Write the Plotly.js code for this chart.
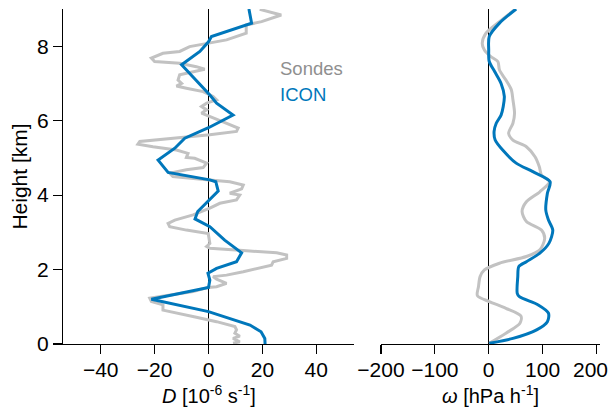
<!DOCTYPE html>
<html><head><meta charset="utf-8">
<script src="https://cdn.plot.ly/plotly-3.0.1.min.js"></script>
<style>html,body{margin:0;padding:0;background:#fff}#chart{width:609px;height:411px}</style>
</head><body><div id="chart"></div>
<script>
// ---- Divergence D [1e-6 s-1] ----
const sondeDHeight = [0.02,0.06,0.15,0.21,0.29,0.38,0.47,0.51,0.6,0.72,0.83,0.91,1.05,1.14,1.23,1.32,1.41,1.52,1.54,1.63,1.74,1.81,1.85,1.94,2.03,2.12,2.21,2.3,2.39,2.45,2.51,2.57,2.62,2.7,2.97,3.06,3.15,3.24,3.33,3.47,3.65,3.78,3.87,4.0,4.05,4.17,4.27,4.36,4.41,4.5,4.59,4.68,4.74,4.86,4.99,5.01,5.12,5.21,5.3,5.37,5.44,5.53,5.62,5.71,5.8,5.97,6.11,6.2,6.29,6.38,6.47,6.56,6.65,6.78,6.87,6.93,7.0,7.09,7.23,7.32,7.38,7.45,7.54,7.59,7.68,7.81,7.86,7.99,8.08,8.17,8.35,8.57,8.66,8.84,8.99];
const sondeD = [9.1,11.6,9.1,11.6,9.8,10.4,9.8,7.9,3,-4.5,-11.9,-16.9,-16.9,-21.2,-21.8,-14.4,-5.7,-0.1,3,6.7,3,1.7,6.7,12.9,17.8,23.4,24,29,29,25.3,12.9,0.5,-0.7,0.5,-0.1,-8.2,-14.4,-15,-12.5,-5.7,0.5,4.2,10.4,11.6,7.9,12.3,12.9,7.9,-0.7,-13.2,-14.4,-8.2,-2,-0.7,-5.1,-8.2,-7.6,-11.9,-20.6,-26.2,-25.5,-11.9,0.5,10.4,11,5.4,0.5,-2.6,-0.7,-2.6,-0.7,3,1.7,-2,-8.2,-11.9,-10,-11.3,-10.7,-4.5,-1.4,-4.5,-10.7,-20,-21.2,-16.9,-10.7,-7,-0.7,6.7,14,14,19.7,27,19];
const iconDHeight = [0.0,0.15,0.33,0.51,0.87,1.2,1.52,1.72,1.9,2.03,2.21,2.45,2.79,3.0,3.15,3.36,3.56,4.11,4.36,4.41,4.61,4.94,5.26,5.53,5.81,6.15,6.47,6.69,7.5,7.86,8.12,8.26,8.62,9.0];
const iconD = [21,20.9,19.5,15.4,0,-21.2,0,0.5,-0.2,3,10.4,12.3,6,3,0.5,-5,-4,3.6,2.7,0.5,-15,-18.7,-12.5,-8.8,0,9.1,3,0.5,-10,-3.2,0,1.1,16,15];

// ---- Vertical velocity omega [hPa h-1] ----
const sondeWHeight = [0.02,0.29,0.56,0.75,0.96,1.14,1.3,1.54,1.81,1.99,2.17,2.35,2.53,2.84,3.06,3.29,3.56,3.82,4.09,4.36,4.54,4.76,5.03,5.3,5.48,5.66,5.93,6.2,6.56,6.83,7.09,7.36,7.59,7.72,7.9,8.08,8.35,8.66,8.98];
const sondeW = [1,32,58,60,32,1,-21,-19,-16,-8,20,70,95,104,98,70,62,70,95,113,98,94,86,70,45,37,45,48,45,42,32,20,17,4,-8,-12,-5,20,48];
const iconWHeight = [0.02,0.15,0.38,0.6,0.83,1.05,1.27,1.36,1.81,2.08,2.21,2.44,2.71,3.06,3.33,3.6,4.05,4.36,4.63,4.86,5.21,5.48,5.71,5.93,6.15,6.38,6.65,7.0,7.32,7.59,7.9,8.26,8.62,9.0];
const iconW = [1,45,89,109,111,92,57,53,54,56,70,95,112,119,111,106,109,114,82,51,26,12,10,14,23,27,29,23,11,1,0,1,20,51];

// ---- ticks, labels ----
const yTickVals = [0,2,4,6,8];
const yTickText = ['0','2','4','6','8'];
const dTickVals = [-40,-20,0,20,40];
const dTickText = ['\u221240','\u221220','0','20','40'];
const wTickVals = [-200,-100,0,100,200];
const wTickText = ['\u2212200','\u2212100','0','100','200'];
const seriesNames = ['Sondes','ICON'];
const seriesColors = ['#c2c2c2','#0077bb'];
const xTitles = ['<i>D</i> [10<sup>-6</sup> s<sup>-1</sup>]', '<i>\u03c9</i> [hPa h<sup>-1</sup>]'];
const yTitle = 'Height [km]';

const FONT = 'Liberation Sans, Arial, Helvetica, sans-serif';

const traces = [
  {x: sondeD, y: sondeDHeight, xaxis:'x', yaxis:'y', mode:'lines', line:{color:seriesColors[0], width:3}, name:seriesNames[0]},
  {x: iconD, y: iconDHeight, xaxis:'x', yaxis:'y', mode:'lines', line:{color:seriesColors[1], width:3}, name:seriesNames[1]},
  {x: sondeW, y: sondeWHeight, xaxis:'x2', yaxis:'y2', mode:'lines', line:{color:seriesColors[0], width:3, shape:'spline', smoothing:0.8}, name:seriesNames[0]},
  {x: iconW, y: iconWHeight, xaxis:'x2', yaxis:'y2', mode:'lines', line:{color:seriesColors[1], width:3, shape:'spline', smoothing:0.8}, name:seriesNames[1]}
];

const axCommon = {showline:true, linecolor:'#000', linewidth:1.2, ticks:'outside', ticklen:9, tickwidth:1.2, tickcolor:'#000', showgrid:false, tickfont:{size:21, color:'#000'}};

const D1 = [0,0.5419], D2 = [0.5922,1];
// the last omega tick label sits a little left of its tick (kept inside the figure)
const wTickTextShown = wTickText.map((t,i) => i === wTickText.length-1 ? '' : t);

const layout = {
  width:609, height:411,
  margin:{l:63, r:9, t:9, b:67},
  paper_bgcolor:'#fff', plot_bgcolor:'rgba(0,0,0,0)',
  font:{family:FONT, color:'#000'},
  showlegend:false,
  xaxis: Object.assign({}, axCommon, {domain:D1, range:[-54,54], anchor:'y', tickvals:dTickVals, ticktext:dTickText,
    ticklabelstandoff:-2, zeroline:true, zerolinecolor:'#000', zerolinewidth:1.2}),
  yaxis: Object.assign({}, axCommon, {domain:[0,1], range:[0,9], anchor:'x', tickvals:yTickVals, ticktext:yTickText, zeroline:false,
    title:{text:yTitle, font:{size:21, color:'#000'}, standoff:3}}),
  yaxis3: {overlaying:'y', anchor:'x', side:'right', range:[0,9], showline:true, linecolor:'#000', linewidth:1.2,
    ticks:'inside', ticklen:9, tickwidth:1.2, tickcolor:'#000', tickvals:yTickVals, showticklabels:false, showgrid:false, zeroline:false},
  xaxis2: Object.assign({}, axCommon, {domain:D2, range:[-200,206.7], anchor:'y2', tickvals:wTickVals, ticktext:wTickTextShown,
    ticklabelstandoff:-2, zeroline:true, zerolinecolor:'#000', zerolinewidth:1.2}),
  yaxis2: {domain:[0,1], range:[0,9], anchor:'x2', visible:false, showgrid:false, zeroline:false},
  annotations: [
    {xref:'paper', yref:'paper', x:0.4004, y:0.8209, xanchor:'left', yanchor:'middle', text:seriesNames[0], showarrow:false, font:{size:18.5, color:'#8f8f8f'}},
    {xref:'paper', yref:'paper', x:0.4004, y:0.7433, xanchor:'left', yanchor:'middle', text:seriesNames[1], showarrow:false, font:{size:18.5, color:seriesColors[1]}},
    {xref:'x2', yref:'paper', x:wTickVals[wTickVals.length-1], y:-0.0776, xanchor:'center', yanchor:'middle', xshift:-6, text:wTickText[wTickText.length-1], showarrow:false, font:{size:21, color:'#000'}},
    {xref:'paper', yref:'paper', x:(D1[0]+D1[1])/2, y:-0.1493, xanchor:'center', yanchor:'middle', text:xTitles[0], showarrow:false, font:{size:20, color:'#000'}},
    {xref:'paper', yref:'paper', x:(D2[0]+D2[1])/2, y:-0.1493, xanchor:'center', yanchor:'middle', text:xTitles[1], showarrow:false, font:{size:20, color:'#000'}}
  ]
};

Plotly.newPlot('chart', traces, layout, {staticPlot:true, displayModeBar:false});
</script>
</body></html>
